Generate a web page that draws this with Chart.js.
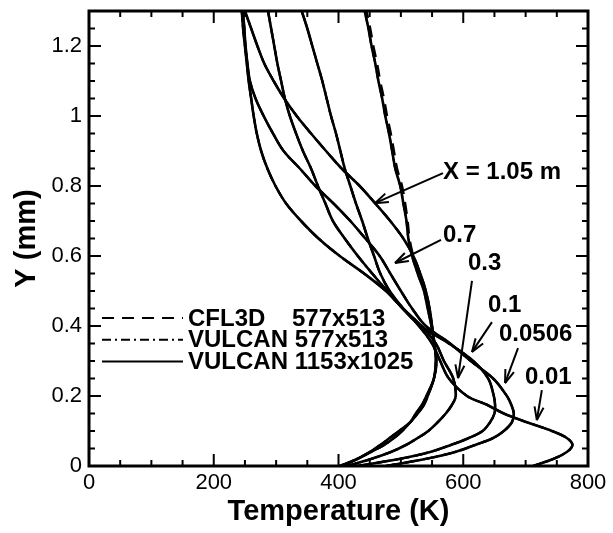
<!DOCTYPE html>
<html><head><meta charset="utf-8">
<script src="https://cdn.jsdelivr.net/npm/chart.js@4/dist/chart.umd.min.js"></script>
<style>html,body{margin:0;padding:0;background:#fff}canvas{display:block}</style>
</head><body>
<canvas id="c" width="613" height="533"></canvas>
<script>
// ---- data (Y in mm, temperature in K) ----
const yLevels = [0,0.02,0.04,0.06,0.08,0.1,0.125,0.15,0.175,0.2,0.25,0.3,0.35,0.4,0.45,0.5,0.55,0.6,0.65,0.7,0.75,0.8,0.85,0.9,0.95,1.0,1.05,1.1,1.15,1.2,1.25,1.3];
const stations = ['0.01','0.0506','0.1','0.3','0.7','1.05'];
const T_x0010 = [712,744,766,775,766,742,702,665,638,606,577,563,550,529,503,476,441,402,368,340,316,299,286,276,269,264,260,256,253,250,247,245];
const T_x0506 = [476,539,587,619,648,665,678,681,677,670,648,612,579,540,518,500,483,466,443,419,392,363,338,312,295,280,267,258,254,251,249,247];
const T_x1000 = [430,497,547,580,609,631,643,650,651,649,640,616,577,532,503,478,454,431,410,391,379,367,356,343,332,322,314,308,302,297,292,287];
const T_x3000 = [414,452,484,508,527,544,559,572,582,588,584,569,556,533,504,482,467,457,447,438,428,419,410,403,396,388,381,374,366,358,350,341];
const T_x7000 = [406,430,452,473,489,502,515,527,537,543,553,556,554,549,543,537,527,518,512,509,504,499,491,486,481,475,470,464,459,453,448,442];
const T_x1050 = [402,430,450,467,482,497,515,524,534,541,553,557,553,550,546,540,531,520,504,483,459,434,405,380,356,333,313,296,281,270,260,250];
// CFL3D at X=0.7 sits slightly to the right in the upper layer
const T_x7000_cfl3d = [406,430,452,473,489,502,515,527,537,543,553,556,554,549,544,538,529,520,514,511,507,502,494,489,484,478,473,467,462,456,451,445];
const methods = ['CFL3D    577x513','VULCAN 577x513','VULCAN 1153x1025'];
const xTicks = [0,200,400,600,800];
const yTicks = [0,0.2,0.4,0.6,0.8,1,1.2];
const annTexts = ['X = 1.05 m','0.7','0.3','0.1','0.0506','0.01'];

// ---- presentation ----
const fineProfiles = [T_x0010,T_x0506,T_x1000,T_x3000,T_x7000,T_x1050];
const cflProfiles  = [T_x0010,T_x0506,T_x1000,T_x3000,T_x7000_cfl3d,T_x1050];
const coarseProfiles = fineProfiles;
const dashes = [[12,8],[9,4,2,4],[]];
// annotation anchors in data coordinates: text left/middle, arrow tail, arrow tip
const annPos = [
  {t:[567.5,0.838], a:[567.5,0.837], b:[458.5,0.751]},
  {t:[567.5,0.660], a:[564.3,0.646], b:[490.6,0.580]},
  {t:[607.6,0.580], a:[614.0,0.529], b:[591.6,0.251]},
  {t:[639.7,0.460], a:[646.0,0.411], b:[614.0,0.326]},
  {t:[657.3,0.377], a:[687.8,0.337], b:[667.0,0.237]},
  {t:[699.0,0.254], a:[726.0,0.217], b:[718.0,0.131]}
];

const datasets = [];
const sets = [cflProfiles, coarseProfiles, fineProfiles];
[2,0,1].forEach(m => {
  sets[m].forEach((T, s) => {
    datasets.push({
      label: methods[m] + ' X=' + stations[s],
      data: yLevels.map((yy, i) => ({x: T[i], y: yy})),
      showLine: true, borderColor: '#000', borderWidth: m === 2 ? 2.6 : 2.2,
      borderDash: dashes[m], pointRadius: 0, tension: 0.35, fill: false
    });
  });
});

const font = 'Liberation Sans, Arial, Helvetica, sans-serif';
const TARGET = {top: 11, right: 588, bottom: 466};

const frame = {
  id: 'frame',
  afterDatasetsDraw(chart) {
    const {ctx, chartArea: a, scales: {x, y}} = chart;
    const seg = (x1, y1, x2, y2) => { ctx.beginPath(); ctx.moveTo(x1, y1); ctx.lineTo(x2, y2); ctx.stroke(); };
    ctx.save();
    ctx.strokeStyle = '#000'; ctx.fillStyle = '#000';
    ctx.setLineDash([]);
    ctx.lineWidth = 2;
    for (let v = 0; v <= 800; v += 50) {
      const px = x.getPixelForValue(v); const L = v % 200 === 0 ? 12 : 6;
      seg(px, a.bottom, px, a.bottom - L); seg(px, a.top, px, a.top + L);
    }
    for (let k = 0; k <= 26; k++) {
      const py = y.getPixelForValue(k * 0.05); const L = k % 4 === 0 ? 12 : 6;
      seg(a.left, py, a.left + L, py); seg(a.right, py, a.right - L, py);
    }
    ctx.lineWidth = 3;
    ctx.strokeRect(a.left, a.top, a.right - a.left, a.bottom - a.top);

    // legend
    ctx.font = 'bold 24px ' + font; ctx.textBaseline = 'middle'; ctx.textAlign = 'left';
    methods.forEach((m, i) => {
      const ly = 318 + i * 21.7;
      ctx.lineWidth = 2; ctx.setLineDash(dashes[i]);
      seg(a.left + 13, ly, a.left + 94, ly);
      ctx.setLineDash([]);
      ctx.fillText(m, a.left + 99, ly + 1);
    });

    // station labels and arrows
    annPos.forEach((p, i) => {
      ctx.fillText(annTexts[i], x.getPixelForValue(p.t[0]), y.getPixelForValue(p.t[1]));
      const x1 = x.getPixelForValue(p.a[0]), y1 = y.getPixelForValue(p.a[1]);
      const x2 = x.getPixelForValue(p.b[0]), y2 = y.getPixelForValue(p.b[1]);
      ctx.lineWidth = 2;
      seg(x1, y1, x2, y2);
      const ang = Math.atan2(y1 - y2, x1 - x2), hl = 14, hw = 0.33;
      seg(x2, y2, x2 + hl * Math.cos(ang + hw), y2 + hl * Math.sin(ang + hw));
      seg(x2, y2, x2 + hl * Math.cos(ang - hw), y2 + hl * Math.sin(ang - hw));
    });
    ctx.restore();
  }
};

const chart = new Chart(document.getElementById('c'), {
  type: 'scatter',
  data: {datasets},
  options: {
    responsive: false, animation: false, events: [],
    layout: {padding: {left: 0, top: 11, right: 25, bottom: 0}},
    plugins: {legend: {display: false}, tooltip: {enabled: false}},
    scales: {
      x: {
        type: 'linear', min: 0, max: 800,
        afterFit: s => { s.height = 67; },
        afterBuildTicks: s => { s.ticks = xTicks.map(v => ({value: v})); },
        grid: {display: false, drawTicks: false}, border: {display: false},
        ticks: {color: '#000', font: {family: font, size: 22, lineHeight: 1}, padding: 6, maxRotation: 0,
                callback: v => String(v)},
        title: {display: true, text: 'Temperature (K)', color: '#000',
                font: {family: font, size: 29, weight: 'bold'}, padding: {top: 0, bottom: 4}}
      },
      y: {
        type: 'linear', min: 0, max: 1.3,
        afterFit: s => { s.width = 89; },
        afterBuildTicks: s => { s.ticks = yTicks.map(v => ({value: v})); },
        grid: {display: false, drawTicks: false}, border: {display: false},
        ticks: {color: '#000', font: {family: font, size: 22, lineHeight: 0.3}, padding: 7,
                callback: v => String(Math.round(v * 100) / 100)},
        title: {display: true, text: 'Y (mm)', color: '#000',
                font: {family: font, size: 29, weight: 'bold'}, padding: {top: 10, bottom: 0}}
      }
    }
  },
  plugins: [frame]
});
// nudge the layout padding so the plot frame lands where the reference has it
for (let it = 0; it < 3; it++) {
  const a = chart.chartArea, p = chart.options.layout.padding;
  const dT = a.top - TARGET.top, dR = a.right - TARGET.right, dB = a.bottom - TARGET.bottom;
  if (Math.abs(dT) < 0.5 && Math.abs(dR) < 0.5 && Math.abs(dB) < 0.5) break;
  p.top = Math.max(0, p.top - dT); p.right += dR; p.bottom += dB;
  chart.update();
}
</script>
</body></html>
